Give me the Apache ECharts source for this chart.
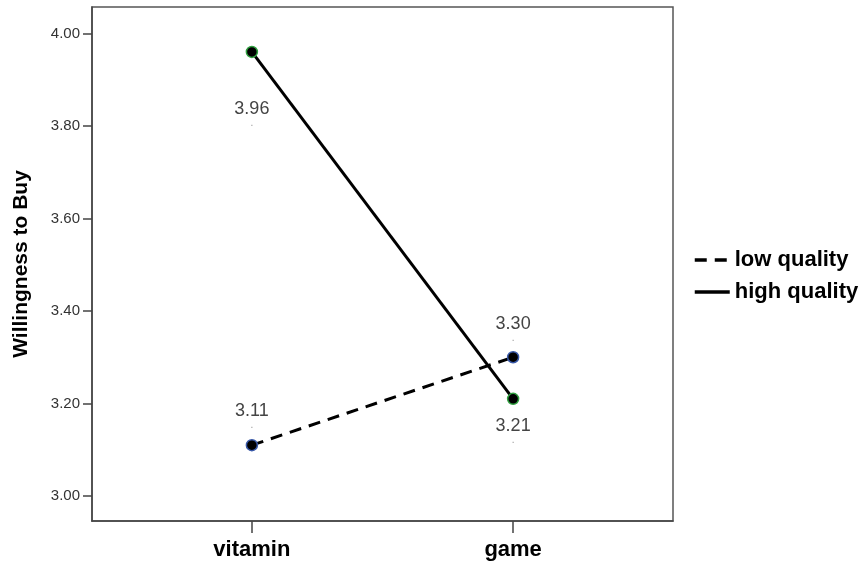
<!DOCTYPE html>
<html>
<head>
<meta charset="utf-8">
<script src="https://cdn.jsdelivr.net/npm/echarts@6/dist/echarts.min.js"></script>
<style>
html,body{margin:0;padding:0;background:#fff;}
#chart{width:868px;height:562px;}
</style>
</head>
<body>
<div id="chart"></div>
<script>
const categories = ['vitamin', 'game'];
const seriesNames = ['low quality', 'high quality'];
const lowQuality = [3.11, 3.30];
const highQuality = [3.96, 3.21];
const yTicks = [3.0, 3.2, 3.4, 3.6, 3.8, 4.0];

const FONT = "'Liberation Sans', Arial, sans-serif";

function pts(vals) { return vals.map((v, i) => [i, v]); }

function labelCfg(dy) {
  return {
    show: true,
    position: 'inside',
    offset: [0, dy],
    formatter: p => '{v|' + p.value[1].toFixed(2) + '}\n{d|.}',
    rich: {
      v: { fontFamily: FONT, fontSize: 18, lineHeight: 18, color: '#444' },
      d: { fontFamily: FONT, fontSize: 10, lineHeight: 10, color: '#999' }
    }
  };
}

function buildData(vals, offsets) {
  return pts(vals).map((p, i) => ({ value: p, label: labelCfg(offsets[i]) }));
}

const chart = echarts.init(document.getElementById('chart'));
chart.setOption({
  animation: false,
  backgroundColor: '#fff',
  grid: {
    left: 92, right: 195, top: 7, bottom: 41,
    show: true, borderColor: '#555', borderWidth: 1.5, backgroundColor: 'transparent'
  },
  xAxis: {
    type: 'value', min: -0.612, max: 1.612,
    axisLine: { show: true, onZero: false, lineStyle: { color: '#444', width: 1.5 } },
    axisTick: { show: true, length: 12, customValues: [0, 1], lineStyle: { color: '#444', width: 1.5 } },
    axisLabel: {
      customValues: [0, 1], margin: 18,
      formatter: v => categories[Math.round(v)] || '',
      fontFamily: FONT, fontSize: 22, fontWeight: 'bold', color: '#000'
    },
    splitLine: { show: false }
  },
  yAxis: {
    type: 'value', min: 2.946, max: 4.057,
    name: 'Willingness to Buy', nameLocation: 'middle', nameRotate: 90, nameGap: 60,
    nameTextStyle: { fontFamily: FONT, fontSize: 21, fontWeight: 'bold', color: '#000' },
    axisLine: { show: true, onZero: false, lineStyle: { color: '#444', width: 1.5 } },
    axisTick: { show: true, length: 9, customValues: yTicks, lineStyle: { color: '#444', width: 1.5 } },
    axisLabel: {
      customValues: yTicks, margin: 12,
      formatter: v => v.toFixed(2),
      fontFamily: FONT, fontSize: 15, color: '#333'
    },
    splitLine: { show: false }
  },
  legend: {
    orient: 'vertical', left: 688, top: 244,
    itemWidth: 35, itemHeight: 14, itemGap: 10,
    itemStyle: { opacity: 0 },
    lineStyle: { width: 3.5 },
    textStyle: { fontFamily: FONT, fontSize: 22, fontWeight: 'bold', color: '#000', lineHeight: 22, padding: [0, 0, 0, 0] },
    data: seriesNames
  },
  series: [
    {
      name: seriesNames[0], type: 'line',
      data: buildData(lowQuality, [-29, -28]),
      symbol: 'circle', symbolSize: 11,
      itemStyle: { color: '#000', borderColor: '#3858a8', borderWidth: 1.5 },
      lineStyle: { color: '#000', width: 3, type: [12, 8] },
      z: 3
    },
    {
      name: seriesNames[1], type: 'line',
      data: buildData(highQuality, [62, 32]),
      symbol: 'circle', symbolSize: 11,
      itemStyle: { color: '#000', borderColor: '#30a040', borderWidth: 1.5 },
      lineStyle: { color: '#000', width: 3, type: 'solid' },
      z: 4
    }
  ]
});
</script>
</body>
</html>
